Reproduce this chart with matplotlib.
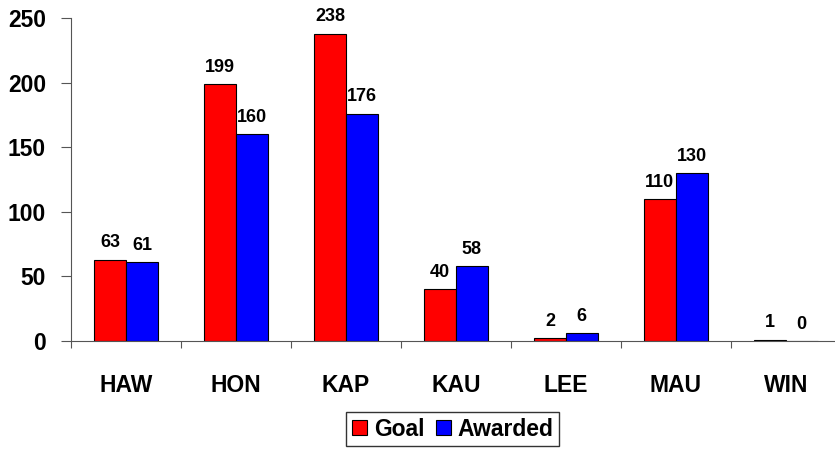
import numpy as np
import matplotlib.pyplot as plt
from matplotlib.patches import Patch

# data
categories = ["HAW", "HON", "KAP", "KAU", "LEE", "MAU", "WIN"]
goal = [63, 199, 238, 40, 2, 110, 1]
awarded = [61, 160, 176, 58, 6, 130, 0]
yticks = [0, 50, 100, 150, 200, 250]

plt.rcParams["font.family"] = ["Liberation Sans", "DejaVu Sans"]

fig = plt.figure(figsize=(8.35, 4.49), dpi=100)
ax = fig.add_axes([0.085, 0.2405, 0.922, 0.7194])

x = np.arange(len(categories))
w = 0.29
b1 = ax.bar(x - w / 2, goal, w, color="#ff0000", edgecolor="black", linewidth=0.8, label="Goal")
b2 = ax.bar(x + w / 2, awarded, w, color="#0000ff", edgecolor="black", linewidth=0.8, label="Awarded")

# value labels above every bar
for bars, vals in ((b1, goal), (b2, awarded)):
    for r, v in zip(bars, vals):
        ax.annotate(str(v), (r.get_x() + r.get_width() / 2, v),
                    xytext=(0, 6), textcoords="offset points",
                    ha="center", va="bottom", fontsize=13, fontweight="bold")

ax.set_xlim(-0.5, len(categories) - 0.5)
ax.set_ylim(0, 250)
ax.set_yticks(yticks)
ax.set_yticklabels([str(t) for t in yticks], fontsize=16.5, fontweight="bold")
# ticks between groups, names centred under groups
ax.set_xticks(np.arange(len(categories) + 1) - 0.5)
ax.set_xticklabels([])
ax.set_xticks(x, minor=True)
ax.set_xticklabels(categories, minor=True, fontsize=16.5, fontweight="bold")
ax.tick_params(axis="x", which="minor", length=0, pad=24)
ax.tick_params(axis="x", which="major", length=5, direction="out", color="#555555")
ax.tick_params(axis="y", length=7, direction="out", color="#555555", pad=11)

for s in ("top", "right"):
    ax.spines[s].set_visible(False)
ax.spines["left"].set_color("#555555")
ax.spines["bottom"].set_color("#555555")

handles = [Patch(facecolor="#ff0000", edgecolor="black", linewidth=0.8, label="Goal"),
           Patch(facecolor="#0000ff", edgecolor="black", linewidth=0.8, label="Awarded")]
fig.legend(handles=handles, loc="center", bbox_to_anchor=(0.542, 0.044), ncol=2,
           prop={"size": 16.5, "weight": "bold"}, frameon=True, fancybox=False,
           edgecolor="black", handlelength=0.65, handleheight=0.65, handletextpad=0.3,
           columnspacing=0.5, borderpad=0.25, borderaxespad=0)

fig.savefig("out.png", dpi=100)
